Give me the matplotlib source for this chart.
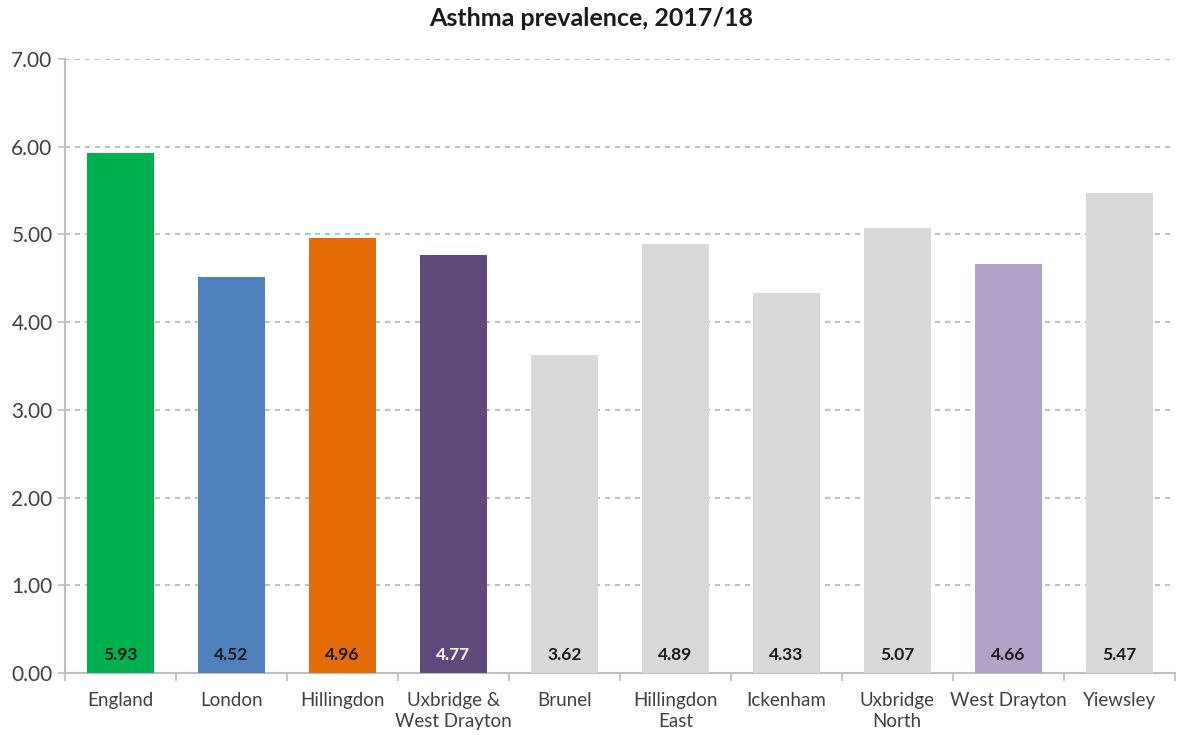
import numpy as np
import matplotlib.pyplot as plt
from matplotlib.ticker import FixedLocator

plt.rcParams['font.family'] = ['Lato', 'DejaVu Sans']

# データ
areas = ["England", "London", "Hillingdon", "Uxbridge &\nWest Drayton", "Brunel",
         "Hillingdon\nEast", "Ickenham", "Uxbridge\nNorth", "West Drayton", "Yiewsley"]
prevalence = [5.93, 4.52, 4.96, 4.77, 3.62, 4.89, 4.33, 5.07, 4.66, 5.47]
bar_colors = ["#00B050", "#4F81BD", "#E36C09", "#604A7B", "#D9D9D9",
              "#D9D9D9", "#D9D9D9", "#D9D9D9", "#B3A2C7", "#D9D9D9"]
label_colors = ["#1a1a1a", "#1a1a1a", "#1a1a1a", "#ffffff", "#1a1a1a",
                "#1a1a1a", "#1a1a1a", "#1a1a1a", "#1a1a1a", "#1a1a1a"]

fig = plt.figure(figsize=(11.83, 7.35), dpi=100)
ax = fig.add_axes([0.055, 0.0844, 0.938, 0.8353])

x = np.arange(len(areas))
ax.bar(x, prevalence, width=0.6, color=bar_colors, zorder=3)

# 棒の下部に値ラベル
for xi, v, c in zip(x, prevalence, label_colors):
    ax.text(xi, 0.2, f"{v:.2f}", ha="center", va="center", fontsize=12.5,
            fontweight="bold", color=c, zorder=4)

ax.set_xlim(-0.5, len(areas) - 0.5)
ax.set_ylim(0, 7)
ax.set_yticks(np.arange(0, 8, 1))
ax.set_yticklabels([f"{t:.2f}" for t in range(8)], fontsize=15, color="#404040")
ax.yaxis.grid(True, linestyle=(0, (3, 3)), color="#B5B5B5", linewidth=1.2, zorder=0)

ax.set_xticks(x)
ax.set_xticklabels(areas, fontsize=13.5, color="#404040", linespacing=1.25)
ax.tick_params(axis="x", length=0, pad=14)
ax.xaxis.set_minor_locator(FixedLocator(np.arange(-0.5, len(areas), 1)))
ax.tick_params(axis="x", which="minor", length=6, color="#BFBFBF", width=1.2)
ax.tick_params(axis="y", length=5, color="#BFBFBF", width=1.2, pad=4)

for s in ["top", "right"]:
    ax.spines[s].set_visible(False)
for s in ["left", "bottom"]:
    ax.spines[s].set_color("#BFBFBF")
    ax.spines[s].set_linewidth(1.5)

fig.text(0.5, 0.975, "Asthma prevalence, 2017/18", ha="center", va="center",
         fontsize=18, fontweight="bold", color="#1a1a1a")

fig.savefig("out.png", dpi=100)
